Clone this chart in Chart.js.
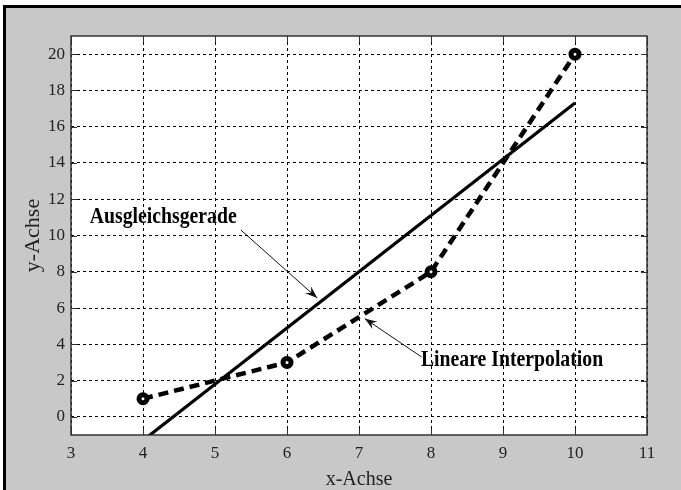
<!DOCTYPE html>
<html>
<head>
<meta charset="utf-8">
<script src="https://cdn.jsdelivr.net/npm/chart.js@4"></script>
<style>
  html, body { margin: 0; padding: 0; background: #fff; }
  .frame {
    position: absolute; left: 3px; top: 5px;
    width: 675px; height: 482px;
    background: #c8c8c8;
    border-top: 3px solid #000; border-left: 3px solid #000;
  }
  canvas { display: block; }
</style>
</head>
<body>
<div class="frame"><canvas id="chart" width="675" height="482"></canvas></div>
<script>
// Messpunkte (lineare Interpolation)
const pointsX = [4, 6, 8, 10];
const pointsY = [1, 3, 8, 20];
// Ausgleichsgerade, Endpunkte
const fitX = [4, 10];
const fitY = [-1.3, 17.3];
// Achsen
const xTicks = [3, 4, 5, 6, 7, 8, 9, 10, 11];
const yTicks = [0, 2, 4, 6, 8, 10, 12, 14, 16, 18, 20];
const xRange = [3, 11];
const yRange = [-1, 21];
// Beschriftungen: [Text, x, y] und Pfeile: [x0, y0, x1, y1]
const labels = [['Ausgleichsgerade', 3.26, 11.0], ['Lineare Interpolation', 7.86, 3.15]];
const arrows = [[5.36, 10.3, 6.42, 6.55], [7.87, 3.3, 7.08, 5.42]];

const serif = '"Liberation Serif", "Times New Roman", serif';

// weisser Hintergrund der Zeichenflaeche
const plotBackground = {
    id: 'plotBackground',
    beforeDraw(chart) {
        const { ctx, chartArea: a } = chart;
        ctx.save();
        ctx.fillStyle = '#fff';
        ctx.fillRect(a.left, a.top, a.right - a.left, a.bottom - a.top);
        ctx.restore();
    }
};

// Rahmen, Ticks nach innen, Texte und Pfeile
const decorations = {
    id: 'decorations',
    afterDraw(chart) {
        const { ctx, chartArea: a, scales: { x, y } } = chart;
        ctx.save();
        ctx.strokeStyle = '#333';
        ctx.lineWidth = 1;
        ctx.beginPath();
        yTicks.forEach(v => {
            const py = Math.round(y.getPixelForValue(v)) + 0.5;
            ctx.moveTo(a.left, py); ctx.lineTo(a.left + 6, py);
            ctx.moveTo(a.right, py); ctx.lineTo(a.right - 6, py);
        });
        xTicks.forEach(v => {
            const px = Math.round(x.getPixelForValue(v)) + 0.5;
            ctx.moveTo(px, a.bottom); ctx.lineTo(px, a.bottom - 6);
            ctx.moveTo(px, a.top); ctx.lineTo(px, a.top + 6);
        });
        ctx.stroke();
        ctx.lineWidth = 1.5;
        ctx.strokeRect(a.left, a.top, a.right - a.left, a.bottom - a.top);

        // Pfeile
        ctx.strokeStyle = '#111';
        ctx.fillStyle = '#111';
        ctx.lineWidth = 1;
        arrows.forEach(([x0, y0, x1, y1]) => {
            const p0x = x.getPixelForValue(x0), p0y = y.getPixelForValue(y0);
            const p1x = x.getPixelForValue(x1), p1y = y.getPixelForValue(y1);
            const ang = Math.atan2(p1y - p0y, p1x - p0x);
            ctx.beginPath();
            ctx.moveTo(p0x, p0y); ctx.lineTo(p1x, p1y);
            ctx.stroke();
            ctx.beginPath();
            ctx.moveTo(p1x, p1y);
            ctx.lineTo(p1x - 13 * Math.cos(ang - 0.35), p1y - 13 * Math.sin(ang - 0.35));
            ctx.lineTo(p1x - 8 * Math.cos(ang), p1y - 8 * Math.sin(ang));
            ctx.lineTo(p1x - 13 * Math.cos(ang + 0.35), p1y - 13 * Math.sin(ang + 0.35));
            ctx.closePath();
            ctx.fill();
        });

        // Texte (horizontal etwas gestaucht wie im Original)
        ctx.fillStyle = '#000';
        ctx.font = 'bold 23.5px ' + serif;
        ctx.textBaseline = 'middle';
        ctx.textAlign = 'left';
        labels.forEach(([t, vx, vy]) => {
            ctx.save();
            ctx.translate(x.getPixelForValue(vx), y.getPixelForValue(vy));
            ctx.scale(0.84, 1);
            ctx.fillText(t, 0, 0);
            ctx.restore();
        });
        ctx.restore();
    }
};

new Chart(document.getElementById('chart'), {
    type: 'line',
    data: {
        datasets: [
            {
                label: 'Lineare Interpolation',
                data: pointsX.map((v, i) => ({ x: v, y: pointsY[i] })),
                borderColor: '#000',
                borderWidth: 4.5,
                borderDash: [10, 6],
                pointRadius: 4,
                pointBorderWidth: 5,
                pointBackgroundColor: '#fff',
                pointBorderColor: '#000',
                tension: 0
            },
            {
                label: 'Ausgleichsgerade',
                data: fitX.map((v, i) => ({ x: v, y: fitY[i] })),
                borderColor: '#000',
                borderWidth: 3.2,
                pointRadius: 0,
                tension: 0
            }
        ]
    },
    options: {
        responsive: false,
        animation: false,
        events: [],
        layout: { padding: { top: 28, right: 34, left: 0, bottom: 0 } },
        plugins: { legend: { display: false }, tooltip: { enabled: false } },
        scales: {
            x: {
                type: 'linear',
                min: xRange[0], max: xRange[1],
                afterBuildTicks: s => { s.ticks = xTicks.map(v => ({ value: v })); },
                afterFit: s => { s.height = 55; },
                grid: { color: '#000', lineWidth: 1, drawTicks: false },
                border: { display: false, dash: [3, 3] },
                ticks: { color: '#222', padding: 8, font: { family: serif, size: 17 }, maxRotation: 0 },
                title: { display: true, text: 'x-Achse', color: '#222', padding: { top: 0, bottom: -2 }, font: { family: serif, size: 20 } }
            },
            y: {
                type: 'linear',
                min: yRange[0], max: yRange[1],
                afterBuildTicks: s => { s.ticks = yTicks.map(v => ({ value: v })); },
                afterFit: s => { s.width = 65; },
                grid: { color: '#000', lineWidth: 1, drawTicks: false },
                border: { display: false, dash: [3, 3] },
                ticks: { color: '#222', padding: 6, font: { family: serif, size: 17 } },
                title: { display: true, text: 'y-Achse', color: '#222', padding: { top: 14, bottom: 0 }, font: { family: serif, size: 22 } }
            }
        }
    },
    plugins: [plotBackground, decorations]
});
</script>
</body>
</html>
